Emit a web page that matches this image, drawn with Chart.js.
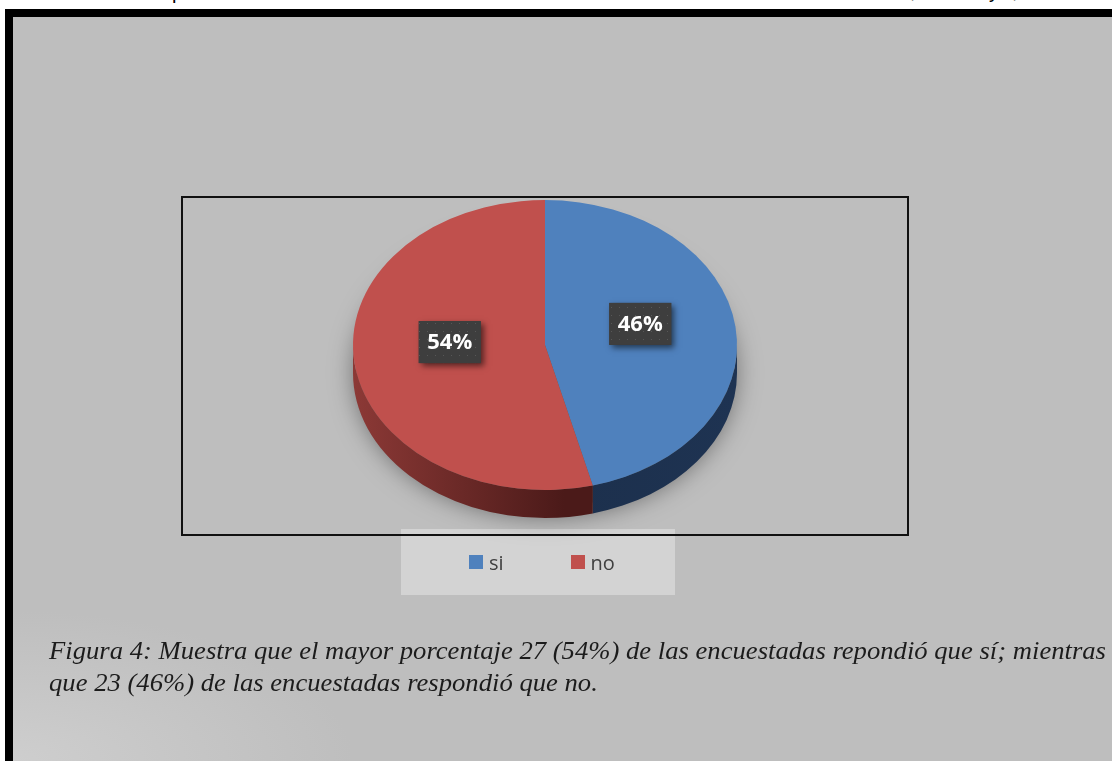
<!DOCTYPE html>
<html>
<head>
<meta charset="utf-8">
<script src="https://cdn.jsdelivr.net/npm/chart.js@4.4.1/dist/chart.umd.min.js"></script>
<style>
  html, body { margin: 0; padding: 0; }
  body { width: 1112px; height: 761px; position: relative; overflow: hidden; background: #fff; }
  #frame {
    position: absolute; left: 5px; top: 9px; right: 0; bottom: 0;
    border-left: 8px solid #000; border-top: 8px solid #000;
    background: radial-gradient(ellipse 340px 150px at 0 100%, #cecece 0%, #bebebe 100%);
  }
  .frag { position: absolute; font: 20px "Liberation Sans", sans-serif; line-height: 20px; color: #000; }
  #legendBox { position: absolute; left: 401px; top: 529px; width: 274px; height: 66px; background: #d3d3d3; }
  #plotBox { position: absolute; left: 181px; top: 196px; width: 724px; height: 336px; border: 2px solid #111; }
  #pieChart { position: absolute; left: 0; top: 0; }
  #legend { position: absolute; left: 469px; top: 552px; display: flex; align-items: center; height: 20px;
    font: 20px "Open Sans", sans-serif; color: #404040; }
  #legend .item { display: flex; align-items: center; margin-right: 67px; }
  #legend .swatch { width: 14px; height: 14px; margin-right: 6px; }
  #caption { position: absolute; left: 49px; top: 635px; font: italic 25px "Liberation Serif", serif;
    line-height: 32px; color: #1c1c1c; transform-origin: 0 0; white-space: nowrap; }
  #caption span { display: inline-block; }
</style>
</head>
<body>
<div id="frame"></div>
<span class="frag" style="left:172px; top:-18px;">p</span>
<span class="frag" style="left:910px; top:-19px;">,</span>
<span class="frag" style="left:989px; top:-19px;">y</span>
<span class="frag" style="left:1012px; top:-19px;">,</span>
<div id="legendBox"></div>
<div id="plotBox"></div>
<canvas id="pieChart" width="1112" height="761"></canvas>
<div id="legend"></div>
<div id="caption">
  <span id="capLine1">Figura 4: Muestra que el mayor porcentaje 27 (54%) de las encuestadas repondió que sí; mientras</span><br>
  <span>que 23 (46%) de las encuestadas respondió que no.</span>
</div>
<script>
const categories = ['si', 'no'];
const percentages = [46, 54];

const sliceColors = ['#4f81bd', '#c0504d'];
// edge colours of the disc: [outer end, inner end] of a horizontal gradient
const edgeColors = [['#1e3352', '#1a2c46'], ['#8c3936', '#4b1a19']];
const tilt = 0.755;     // vertical squash of the disc
const edgeDepth = 28;   // visible thickness of the disc, px
const labelLift = 12;   // labels sit a little above the slice centre

// dotted fill used by the value labels
function makeDots() {
  const c = document.createElement('canvas');
  c.width = 8; c.height = 8;
  const g = c.getContext('2d');
  g.fillStyle = '#3e3e3e';
  g.fillRect(0, 0, 8, 8);
  g.fillStyle = '#575757';
  g.fillRect(3, 3, 1, 1);
  return c;
}
const dotTile = makeDots();

const discPlugin = {
  id: 'disc3d',
  beforeDatasetsDraw(chart) {
    const arcs = chart.getDatasetMeta(0).data;
    if (!arcs.length) return;
    const { x, y, outerRadius: r } = arcs[0];
    const ctx = chart.ctx;
    const d = edgeDepth / tilt;
    ctx.save();
    ctx.translate(x, y);
    ctx.scale(1, tilt);
    ctx.translate(-x, -y);

    // soft shadow under the disc
    ctx.save();
    ctx.shadowColor = 'rgba(0,0,0,0.5)';
    ctx.shadowBlur = 26;
    ctx.shadowOffsetY = 8;
    ctx.fillStyle = '#5a5a5a';
    ctx.beginPath();
    ctx.arc(x, y + d * 0.7, r - 3, 0, Math.PI * 2);
    ctx.fill();
    ctx.restore();

    // front edge of each slice (lower half only)
    arcs.forEach((arc, i) => {
      const a0 = Math.max(arc.startAngle, 0);
      const a1 = Math.min(arc.endAngle, Math.PI);
      if (a1 <= a0) return;
      const grad = ctx.createLinearGradient(x - r, 0, x + r, 0);
      if (i === 1) {
        grad.addColorStop(0, edgeColors[i][0]);
        grad.addColorStop(0.55, edgeColors[i][1]);
        grad.addColorStop(1, edgeColors[i][1]);
      } else {
        grad.addColorStop(0, edgeColors[i][1]);
        grad.addColorStop(1, edgeColors[i][0]);
      }
      ctx.fillStyle = grad;
      ctx.beginPath();
      ctx.arc(x, y, r, a0, a1);
      ctx.arc(x, y + d, r, a1, a0, true);
      ctx.closePath();
      ctx.fill();
    });
  },
  afterDatasetsDraw(chart) {
    chart.ctx.restore();
  }
};

const labelPlugin = {
  id: 'pctLabels',
  afterDatasetsDraw(chart) {
    const ctx = chart.ctx;
    const arcs = chart.getDatasetMeta(0).data;
    const dots = ctx.createPattern(dotTile, 'repeat');
    arcs.forEach((arc, i) => {
      const c = arc.tooltipPosition();
      const lx = c.x;
      const ly = arc.y + (c.y - arc.y) * tilt - labelLift;
      const w = 62, h = 42;
      ctx.save();
      ctx.shadowColor = 'rgba(0,0,0,0.55)';
      ctx.shadowBlur = 6;
      ctx.shadowOffsetX = 3;
      ctx.shadowOffsetY = 3;
      ctx.fillStyle = '#3e3e3e';
      ctx.fillRect(lx - w / 2, ly - h / 2, w, h);
      ctx.restore();
      ctx.fillStyle = dots;
      ctx.fillRect(lx - w / 2, ly - h / 2, w, h);
      ctx.fillStyle = '#ffffff';
      ctx.font = 'bold 22px "Open Sans"';
      ctx.textAlign = 'center';
      ctx.textBaseline = 'middle';
      ctx.fillText(percentages[i] + '%', lx, ly + 1);
    });
  }
};

const chart = new Chart(document.getElementById('pieChart'), {
  type: 'pie',
  data: {
    labels: categories,
    datasets: [{
      data: percentages,
      backgroundColor: sliceColors,
      borderWidth: 0,
      clip: false
    }]
  },
  options: {
    responsive: false,
    devicePixelRatio: 1,
    animation: false,
    events: [],
    layout: { padding: { left: 353, right: 375, top: 153, bottom: 224 } },
    plugins: {
      legend: { display: false },
      tooltip: { enabled: false }
    }
  },
  plugins: [discPlugin, labelPlugin]
});

// legend built from the chart's own legend items
const legendEl = document.getElementById('legend');
chart.options.plugins.legend.labels.generateLabels(chart).forEach(item => {
  const el = document.createElement('div');
  el.className = 'item';
  const sw = document.createElement('span');
  sw.className = 'swatch';
  sw.style.background = item.fillStyle;
  const tx = document.createElement('span');
  tx.textContent = item.text;
  el.appendChild(sw);
  el.appendChild(tx);
  legendEl.appendChild(el);
});

// caption is set wide, stretched to the column width
const cap = document.getElementById('caption');
const lineW = document.getElementById('capLine1').getBoundingClientRect().width;
cap.style.transform = 'scaleX(' + (1057 / lineW) + ')';
</script>
</body>
</html>
